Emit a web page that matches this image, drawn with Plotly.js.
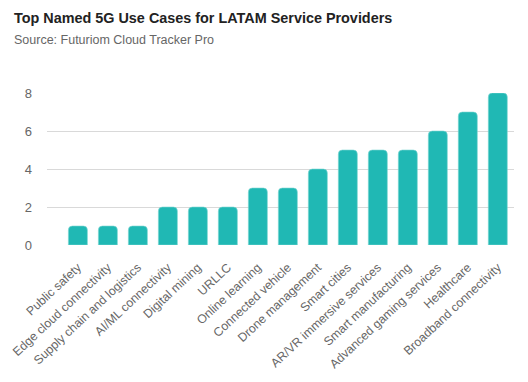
<!DOCTYPE html>
<html>
<head>
<meta charset="utf-8">
<script src="https://cdn.plot.ly/plotly-3.0.1.min.js"></script>
<style>html,body{margin:0;padding:0;background:#fff}#chart{width:528px;height:382px}</style>
</head>
<body>
<div id="chart"></div>
<script>
const categories = ["Public safety","Edge cloud connectivity","Supply chain and logistics","AI/ML connectivity","Digital mining","URLLC","Online learning","Connected vehicle","Drone management","Smart cities","AR/VR immersive services","Smart manufacturing","Advanced gaming services","Healthcare","Broadband connectivity"];
const values = [1,1,1,2,2,2,3,3,4,5,5,5,6,7,8];
const yTicks = [0,2,4,6,8];
const titleText = "Top Named 5G Use Cases for LATAM Service Providers";
const subtitleText = "Source: Futuriom Cloud Tracker Pro";

const font = "Liberation Sans, Arial, sans-serif";
const trace = {
  type: "bar",
  x: categories,
  y: values,
  marker: {color: "#20b8b4", cornerradius: 4, line: {width: 0.6, color: "#7fd6d3"}},
  hoverinfo: "x+y"
};
const layout = {
  width: 528, height: 382,
  margin: {l: 47, r: 14, t: 93, b: 137},
  paper_bgcolor: "#fff", plot_bgcolor: "#fff",
  bargap: 0.366,
  showlegend: false,
  font: {family: font, color: "#666", size: 12},
  xaxis: {
    type: "category",
    range: [-1.03, 14.54],
    tickangle: -43,
    tickfont: {size: 12.3, color: "#666"},
    ticklabelstandoff: 12,
    showgrid: false, zeroline: false, showline: false, ticks: "", fixedrange: true
  },
  yaxis: {
    range: [0, 8],
    tickvals: yTicks,
    tickfont: {size: 13, color: "#666"},
    gridcolor: "#d9d9d9", gridwidth: 1,
    zeroline: false, showline: false, ticks: "", ticklabelstandoff: 14, fixedrange: true
  },
  annotations: [
    {text: titleText, xref: "paper", yref: "paper", x: (12-47)/467, y: (245-18)/152, xanchor: "left", yanchor: "middle", showarrow: false, font: {family: font, size: 14.4, color: "#222", weight: 600}},
    {text: subtitleText, xref: "paper", yref: "paper", x: (12-47)/467, y: (245-40)/152, xanchor: "left", yanchor: "middle", showarrow: false, font: {family: font, size: 12.5, color: "#666"}}
  ]
};
Plotly.newPlot("chart", [trace], layout, {displayModeBar: false, staticPlot: true});
</script>
</body>
</html>
